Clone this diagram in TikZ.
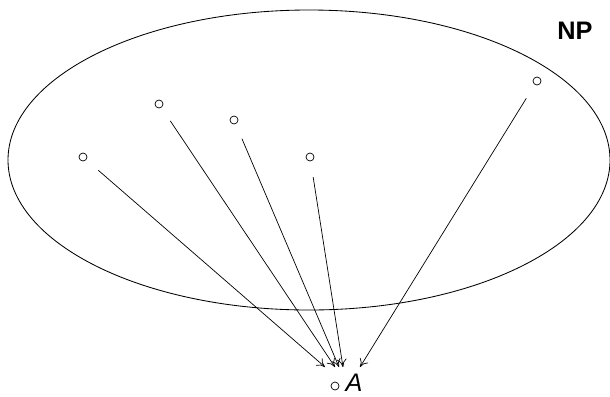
\documentclass[tikz,border=0pt]{standalone}
\usepackage{fontspec}
\setmainfont{Liberation Sans}
\usepackage{tikz}
\usetikzlibrary{arrows.meta,positioning,calc}
\tikzset{
  dot/.style={draw,circle,line width=0.5pt,minimum size=0.2cm,inner sep=0pt},
  maparr/.style={-{To[length=2mm,width=2.4mm]},line width=0.5pt,
                 shorten <=0.4cm}
}

\begin{document}
\begin{tikzpicture}[x=0.025cm,y=-0.025cm]
    \useasboundingbox (0,0) rectangle (610,396);
    \draw[line width=0.6pt] (309,160) ellipse [x radius=301,y radius=150];
    \node[font=\bfseries\fontsize{18}{20}\selectfont] (np) at (575,31) {NP};
    % points inside the set
    \node[dot] (p1) at (83,157) {};
    \node[dot] (p2) at (159,104) {};
    \node[dot] (p3) at (234,120) {};
    \node[dot] (p4) at (310,157) {};
    \node[dot] (p5) at (537,81) {};
    % the target
    \node[dot] (a) at (335,386) {};
    \node[font=\itshape\fontsize{18}{20}\selectfont,right=0.15cm of a,
          yshift=2pt,inner sep=0pt] (alab) {A};
    \coordinate (t1) at (325,367);
    \coordinate (t2) at (335,367);
    \coordinate (t3) at (339,367);
    \coordinate (t4) at (343,367);
    \coordinate (t5) at (360,367);
    \draw[maparr] (p1) -- (t1);
    \draw[maparr] (p2) -- (t2);
    \draw[maparr] (p3) -- (t3);
    \draw[maparr] (p4) -- (t4);
    \draw[maparr] (p5) -- (t5);
  \end{tikzpicture}
\end{document}
